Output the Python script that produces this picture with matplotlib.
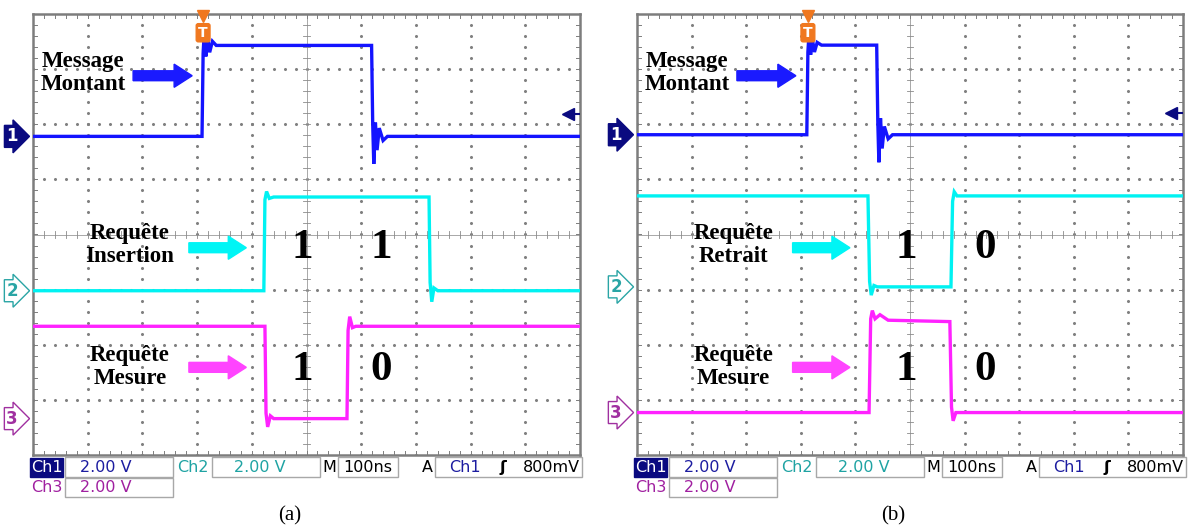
import numpy as np
import matplotlib.pyplot as plt
from matplotlib.patches import Rectangle, FancyArrow

W, H = 1188, 528

# time in ns from left edge of the screen (100 ns/div), level in volts (2 V/div)
ch1_a_t = [0, 309, 311, 313, 316, 319, 323, 328, 335, 619, 621, 623, 626, 629, 633, 640, 648, 1000]
ch1_a_v = [0, 0, 3.0, 3.75, 2.9, 3.6, 3.05, 3.45, 3.3, 3.3, 0.5, -1.0, 0.5, -0.5, 0.3, -0.15, 0, 0]
ch2_a_t = [0, 422, 424, 427, 432, 440, 724, 726, 729, 733, 740, 1000]
ch2_a_v = [0, 0, 3.3, 3.6, 3.35, 3.4, 3.4, 0.3, -0.4, 0.1, 0, 0]
ch3_a_t = [0, 424, 426, 429, 434, 440, 574, 576, 579, 584, 590, 1000]
ch3_a_v = [3.35, 3.35, 0.2, -0.3, 0.1, 0, 0, 3.2, 3.7, 3.3, 3.35, 3.35]

ch1_b_t = [0, 311, 313, 315, 318, 321, 325, 330, 338, 439, 441, 443, 446, 449, 453, 460, 468, 1000]
ch1_b_v = [0, 0, 3.0, 3.65, 2.9, 3.5, 3.0, 3.35, 3.25, 3.25, 0.5, -1.0, 0.6, -0.5, 0.3, -0.15, 0, 0]
ch2_b_t = [0, 423, 426, 429, 434, 440, 575, 578, 581, 586, 1000]
ch2_b_v = [3.3, 3.3, 0.2, -0.3, 0.05, 0, 0, 3.1, 3.45, 3.3, 3.3]
ch3_b_t = [0, 425, 428, 431, 436, 445, 460, 573, 576, 579, 584, 1000]
ch3_b_v = [0, 0, 3.4, 3.7, 3.4, 3.55, 3.35, 3.3, 0.2, -0.3, 0, 0]

# channel offsets (divisions from screen centre)
offsets_a = [1.78, -1.02, -3.34]
offsets_b = [1.81, -0.95, -3.23]
trig_a, trig_b = 311, 313
trig_level = 0.8

labels_top = "Message\nMontant"
labels_mid = ["Requête\nInsertion", "Requête\nRetrait"]
labels_bot = "Requête\nMesure"
bits_a = [["1", "1"], ["1", "0"]]
bits_b = [["1", "0"], ["1", "0"]]

trace_colors = ['#1414ff', '#00f2f2', '#ff22ff']
arrow_colors = ['#1a1aff', '#00f5f5', '#ff44ff']
status_colors = ['#1c1ca0', '#1fa3a3', '#a020a0']
serif = 'Liberation Serif'


def px(x, y):
    return x / W, 1 - y / H


def draw_screen(ax):
    ax.set_xlim(0, 10)
    ax.set_ylim(-4, 4)
    ax.set_xticks([])
    ax.set_yticks([])
    for s in ax.spines.values():
        s.set_color('#7d7d7d')
        s.set_linewidth(1.8)
    fine = np.arange(0, 10.001, 0.2)
    fine_y = np.arange(-4, 4.001, 0.2)
    # dotted division lines
    for i in range(1, 10):
        if i == 5:
            continue
        ax.plot(np.full_like(fine_y, i), fine_y, ls='none', marker='o', ms=1.2, color='#808080', zorder=1)
    for j in range(-3, 4):
        if j == 0:
            continue
        ax.plot(fine, np.full_like(fine, j), ls='none', marker='o', ms=1.2, color='#808080', zorder=1)
    # centre crosshair with ticks
    ax.axvline(5, color='#9a9a9a', lw=0.6, zorder=1)
    ax.axhline(0, color='#9a9a9a', lw=0.6, zorder=1)
    for x in fine:
        ax.plot([x, x], [-0.06, 0.06], color='#8a8a8a', lw=0.6, zorder=1)
        ax.plot([x, x], [-4, -3.93], color='#7d7d7d', lw=0.7, zorder=1)
        ax.plot([x, x], [4, 3.93], color='#7d7d7d', lw=0.7, zorder=1)
    for y in fine_y:
        ax.plot([4.94, 5.06], [y, y], color='#8a8a8a', lw=0.6, zorder=1)
        ax.plot([0, 0.07], [y, y], color='#7d7d7d', lw=0.7, zorder=1)
        ax.plot([10, 9.93], [y, y], color='#7d7d7d', lw=0.7, zorder=1)


def draw_traces(ax, traces, offsets, trig):
    for (t, v), off, c in zip(traces, offsets, trace_colors):
        x = np.array(t) / 100.0
        y = np.array(v) / 2.0 + off
        ax.plot(x, y, color=c, lw=2.4, zorder=3, solid_joinstyle='miter')
    # channel markers on the left
    styles = [dict(fc='#0a0a80', ec='#0a0a80', tc='white'),
              dict(fc='white', ec='#2aa5a5', tc='#2aa5a5'),
              dict(fc='white', ec='#a030a0', tc='#a030a0')]
    for k, (off, st) in enumerate(zip(offsets, styles)):
        ax.annotate(str(k + 1), xy=(0, off), xytext=(-15, 0), textcoords='offset points',
                    ha='center', va='center', fontsize=12, color=st['tc'], fontweight='bold',
                    annotation_clip=False,
                    bbox=dict(boxstyle='rarrow,pad=0.12', fc=st['fc'], ec=st['ec'], lw=1.0))
    # trigger position marker
    tx = trig / 100.0
    ax.plot([tx], [3.96], marker='v', ms=9, color='#f07820', clip_on=False, zorder=5)
    ax.text(tx, 3.66, 'T', ha='center', va='center', color='white', fontsize=10, fontweight='bold',
            zorder=5, bbox=dict(boxstyle='round,pad=0.15', fc='#f07820', ec='#f07820'))
    # trigger level marker on the right
    ly = offsets[0] + trig_level / 2.0
    ax.plot([9.72, 9.98], [ly, ly], color='#0a0a80', lw=1.5, zorder=5)
    ax.plot([9.78], [ly], marker='<', ms=8, color='#0a0a80', zorder=5)


def draw_labels(ax, mid_label, bits):
    font = dict(family=serif, fontweight='bold', color='black', ha='center', va='center',
                zorder=6, linespacing=1.1)
    ax.text(0.92, 2.93, labels_top, fontsize=16.5, **font)
    ax.text(1.77, -0.19, mid_label, fontsize=16.5, **font)
    ax.text(1.77, -2.40, labels_bot, fontsize=16.5, **font)
    for (x0, x1, y), c in zip([(1.83, 2.91, 2.88), (2.85, 3.9, -0.24), (2.85, 3.9, -2.41)], arrow_colors):
        ax.add_patch(FancyArrow(x0, y, x1 - x0, 0, width=0.18, head_width=0.42, head_length=0.33,
                                length_includes_head=True, color=c, zorder=6))
    for row, y in zip(bits, [-0.24, -2.45]):
        ax.text(4.93, y, row[0], fontsize=31, **font)
        ax.text(6.37, y, row[1], fontsize=31, **font)


def draw_status(fig, dx):
    tr = fig.transFigure
    sans = dict(family='DejaVu Sans', fontsize=11.5, va='center', transform=tr)

    def box(x0, x1, y0, y1, fc='white', ec='#a8a8a8'):
        (a, b), (c, d) = px(x0 + dx, y1), px(x1 + dx, y0)
        fig.patches.append(Rectangle((a, b), c - a, d - b, fc=fc, ec=ec, lw=1.0, transform=tr))

    box(30, 63, 458, 477, fc='#0a0a80', ec='#0a0a80')
    fig.text(*px(46.5 + dx, 467.5), 'Ch1', color='white', ha='center', **sans)
    box(65, 173, 457, 477)
    fig.text(*px(80 + dx, 467.5), '2.00 V', color=status_colors[0], ha='left', **sans)
    fig.text(*px(193 + dx, 467.5), 'Ch2', color=status_colors[1], ha='center', **sans)
    box(212, 320, 457, 477)
    fig.text(*px(234 + dx, 467.5), '2.00 V', color=status_colors[1], ha='left', **sans)
    fig.text(*px(329 + dx, 467.5), 'M', color='black', ha='center', **sans)
    box(338, 398, 457, 477)
    fig.text(*px(368 + dx, 467.5), '100ns', color='black', ha='center', **sans)
    fig.text(*px(427 + dx, 467.5), 'A', color='black', ha='center', **sans)
    box(435, 582, 457, 477)
    fig.text(*px(449 + dx, 467.5), 'Ch1', color=status_colors[0], ha='left', **sans)
    fig.text(*px(503 + dx, 467.5), 'ʃ', color='black', ha='center', fontweight='bold', **sans)
    fig.text(*px(580 + dx, 467.5), '800mV', color='black', ha='right', **sans)
    fig.text(*px(46.5 + dx, 488), 'Ch3', color=status_colors[2], ha='center', **sans)
    box(65, 173, 478, 497)
    fig.text(*px(80 + dx, 488), '2.00 V', color=status_colors[2], ha='left', **sans)


fig = plt.figure(figsize=(W / 100, H / 100), dpi=100)
ax_a = fig.add_axes([33 / W, (H - 455) / H, 547 / W, 441 / H])
ax_b = fig.add_axes([637 / W, (H - 455) / H, 546 / W, 441 / H])

for ax in (ax_a, ax_b):
    draw_screen(ax)

draw_traces(ax_a, [(ch1_a_t, ch1_a_v), (ch2_a_t, ch2_a_v), (ch3_a_t, ch3_a_v)], offsets_a, trig_a)
draw_traces(ax_b, [(ch1_b_t, ch1_b_v), (ch2_b_t, ch2_b_v), (ch3_b_t, ch3_b_v)], offsets_b, trig_b)
draw_labels(ax_a, labels_mid[0], bits_a)
draw_labels(ax_b, labels_mid[1], bits_b)

draw_status(fig, 0)
draw_status(fig, 604)

fig.text(*px(290, 516), '(a)', family=serif, fontsize=15, ha='center', va='center')
fig.text(*px(893, 516), '(b)', family=serif, fontsize=15, ha='center', va='center')

fig.savefig('out.png', dpi=100)
